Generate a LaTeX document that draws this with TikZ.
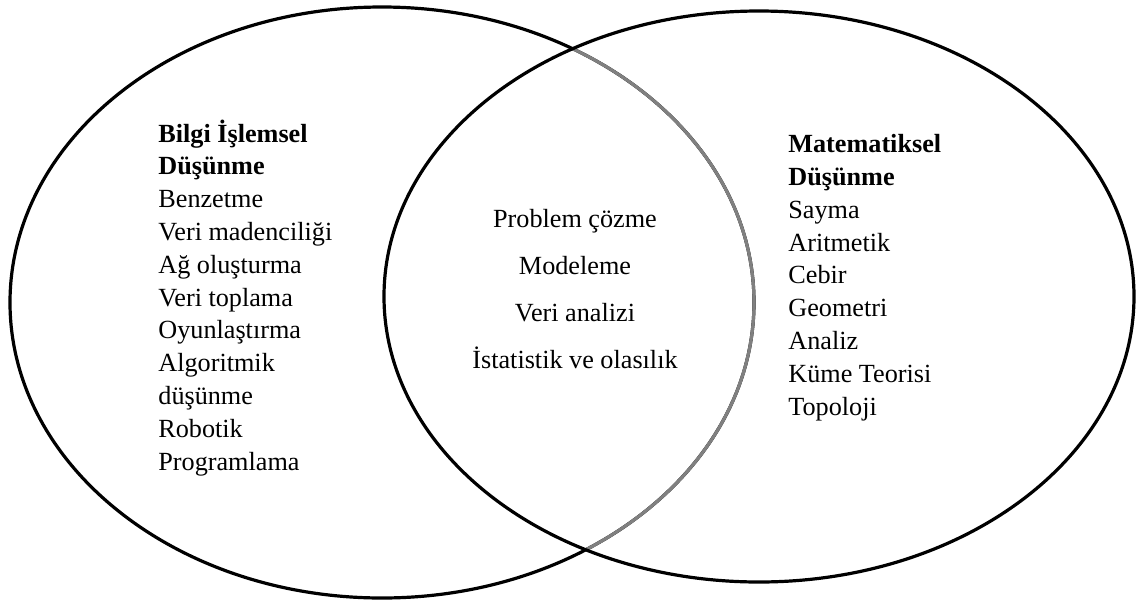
\documentclass[tikz,border=0pt]{standalone}
\usepackage{fontspec}
\setmainfont{Liberation Serif}
\usepackage{tikz}

\tikzset{
    ring/.style={line width=1.6pt},
    listtext/.style={anchor=base west, align=left, inner sep=0pt,
        font=\fontsize{13.1}{16.4}\selectfont},
    midtext/.style={anchor=base, align=center, inner sep=0pt,
        font=\fontsize{13.1}{23.4}\selectfont}
}

\begin{document}
\begin{tikzpicture}[x=0.5pt,y=-0.5pt]
    \useasboundingbox (0,0) rectangle (1137,601);
    \coordinate (bilgi) at (382,302.5);
    \coordinate (mat) at (759,296.5);
    % the two sets
    \draw[ring] (bilgi) ellipse [x radius=186pt, y radius=147.75pt];
    \begin{scope}
        \clip (mat) ellipse [x radius=187.5pt, y radius=142.75pt];
        \draw[ring, gray] (bilgi) ellipse [x radius=186pt, y radius=147.75pt];
    \end{scope}
    \draw[ring] (mat) ellipse [x radius=187.5pt, y radius=142.75pt];
    % texts (anchored at the baseline of the last line)
    \node[listtext] (bilgilist) at (158,470) {\textbf{Bilgi İşlemsel}\\\textbf{Düşünme}\\Benzetme\\Veri madenciliği\\Ağ oluşturma\\Veri toplama\\Oyunlaştırma\\Algoritmik\\düşünme\\Robotik\\Programlama};
    \node[listtext] (matlist) at (788,415) {\textbf{Matematiksel}\\\textbf{Düşünme}\\Sayma\\Aritmetik\\Cebir\\Geometri\\Analiz\\Küme Teorisi\\Topoloji};
    \node[midtext] (ortak) at (575,368) {Problem çözme\\Modeleme\\Veri analizi\\İstatistik ve olasılık};
\end{tikzpicture}
\end{document}
